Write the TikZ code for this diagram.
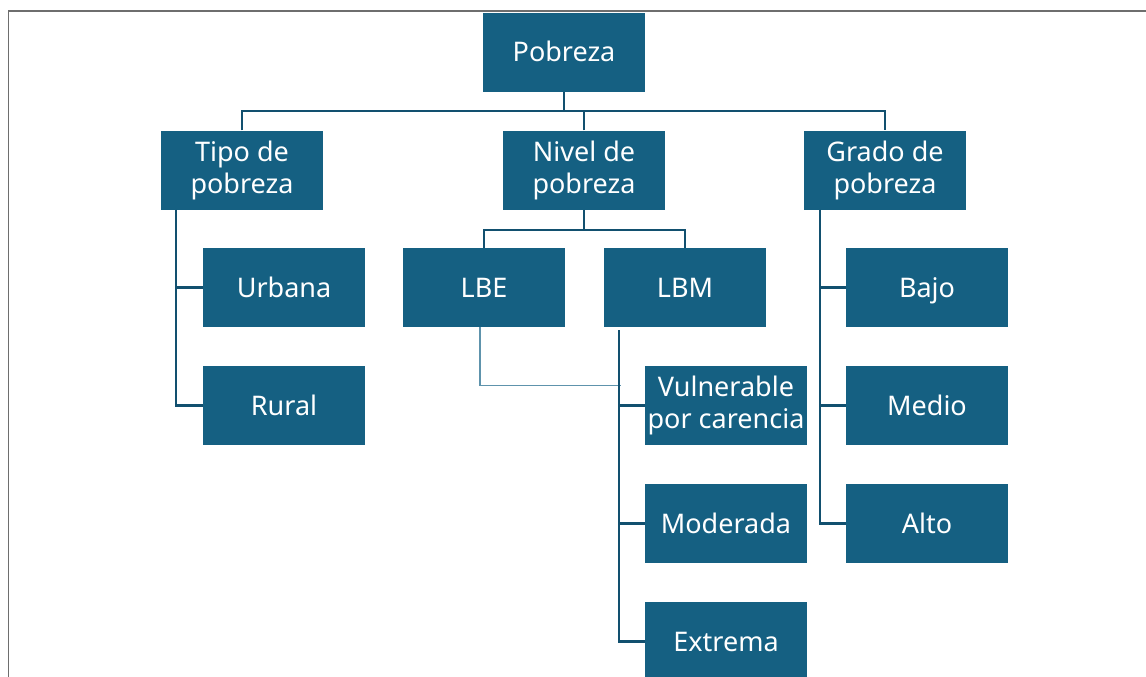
\documentclass[tikz,border=0pt]{standalone}
\usepackage{fontspec}
\setmainfont{Noto Sans}
\usepackage{tikz}
\definecolor{boxblue}{HTML}{156082}
\definecolor{lineblue}{HTML}{12506F}
\definecolor{thinblue}{HTML}{5E93AC}
\definecolor{framegray}{HTML}{6E6E6E}

\begin{document}
\begin{tikzpicture}[x=1pt,y=-1pt,
    item/.style={fill=boxblue,text=white,minimum width=162pt,minimum height=79pt,
      inner sep=0pt,align=center,font=\fontsize{27}{32}\selectfont},
    single/.style={item,text height=19pt,text depth=0pt},
    conn/.style={draw=lineblue,line width=2.4pt},
    weak/.style={draw=thinblue,line width=1.3pt}]
    \useasboundingbox (0,0) rectangle (1146,677);
    \draw[framegray,line width=1.6pt] (8.5,680) -- (8.5,11) -- (1150,11);
    \node[single] (pob) at (564,52.5) {Pobreza};
    \node[item] (tipo) at (242,170) {Tipo de\\pobreza};
    \node[item] (nivel) at (584,170) {Nivel de\\pobreza};
    \node[item] (grado) at (885,170) {Grado de\\pobreza};
    \node[single] (urb) at (284,287.5) {Urbana};
    \node[single] (rur) at (284,405.5) {Rural};
    \node[single] (lbe) at (484,287.5) {LBE};
    \node[single] (lbm) at (685,287.5) {LBM};
    \node[item] (vul) at (726,405.5) {Vulnerable\\por carencia};
    \node[single] (mod) at (726,523.5) {Moderada};
    \node[single] (ext) at (726,641.5) {Extrema};
    \node[single] (baj) at (927,287.5) {Bajo};
    \node[single] (med) at (927,405.5) {Medio};
    \node[single] (alt) at (927,523.5) {Alto};
    \coordinate (bus) at (564,111);
    \draw[conn] (pob.south) -- (bus);
    \draw[conn] (tipo.north) |- (bus) -| (grado.north);
    \draw[conn] (nivel.north) -- (nivel.north |- bus);
    \draw[conn] ([xshift=15pt]tipo.south west) |- (urb.west);
    \draw[conn] ([xshift=15pt]tipo.south west) |- (rur.west);
    \draw[conn] (nivel.south) -- ++(0,20) coordinate (nbus);
    \draw[conn] (lbe.north) |- (nbus) -| (lbm.north);
    \draw[weak] ([xshift=-4pt]lbe.south) |- ([xshift=-24pt,yshift=20pt]vul.west);
    \draw[conn] ([xshift=15pt,yshift=-3pt]lbm.south west) |- (vul.west);
    \draw[conn] ([xshift=15pt,yshift=-3pt]lbm.south west) |- (mod.west);
    \draw[conn] ([xshift=15pt,yshift=-3pt]lbm.south west) |- (ext.west);
    \draw[conn] ([xshift=16pt]grado.south west) |- (baj.west);
    \draw[conn] ([xshift=16pt]grado.south west) |- (med.west);
    \draw[conn] ([xshift=16pt]grado.south west) |- (alt.west);
\end{tikzpicture}
\end{document}
